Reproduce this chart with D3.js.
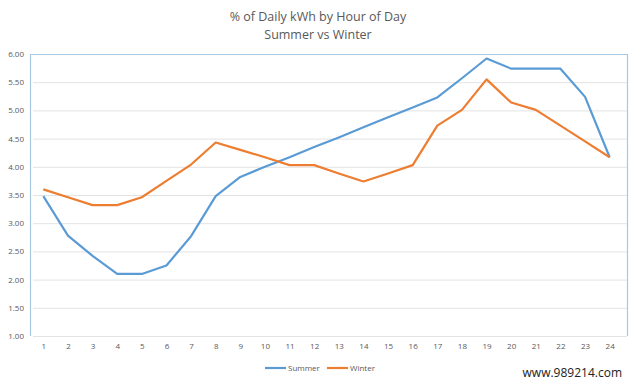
<!DOCTYPE html>
<html>
<head>
<meta charset="utf-8">
<script src="https://cdn.jsdelivr.net/npm/d3@7"></script>
<style>
  body { margin: 0; background: #fff; }
  text { font-family: "Open Sans", "Noto Sans", sans-serif; }
</style>
</head>
<body>
<div id="chart"></div>
<script>
// hours of day and share of daily kWh
const hours = d3.range(1, 25);
const summer = [3.48, 2.78, 2.42, 2.10, 2.10, 2.25, 2.77, 3.48, 3.82, 4.00, 4.17, 4.35,
                4.52, 4.70, 4.88, 5.05, 5.23, 5.57, 5.92, 5.74, 5.74, 5.74, 5.24, 4.17];
const winter = [3.60, 3.46, 3.32, 3.32, 3.46, 3.75, 4.04, 4.43, 4.30, 4.17, 4.03, 4.03,
                3.88, 3.74, 3.88, 4.03, 4.73, 5.01, 5.55, 5.14, 5.01, 4.73, 4.45, 4.17];
const yTicks = [1, 1.5, 2, 2.5, 3, 3.5, 4, 4.5, 5, 5.5, 6];
const seriesNames = ["Summer", "Winter"];
const seriesColors = ["#5b9bd5", "#ed7d31"];

const width = 637, height = 383;
const plot = { left: 31, right: 622, top: 54, bottom: 336 };

const svg = d3.select("#chart").append("svg")
    .attr("width", width)
    .attr("height", height);

// title
svg.append("text")
    .attr("x", 318).attr("y", 21)
    .attr("text-anchor", "middle")
    .attr("font-size", 12.5)
    .attr("fill", "#595959")
    .text("% of Daily kWh by Hour of Day");
svg.append("text")
    .attr("x", 318).attr("y", 39)
    .attr("text-anchor", "middle")
    .attr("font-size", 12.5)
    .attr("fill", "#595959")
    .text("Summer vs Winter");

const x = d3.scalePoint()
    .domain(hours)
    .range([plot.left, plot.right])
    .padding(0.5);

const y = d3.scaleLinear()
    .domain([1, 6])
    .range([plot.bottom, plot.top]);

// gridlines
svg.append("g")
    .selectAll("line")
    .data(yTicks)
    .join("line")
    .attr("x1", plot.left + 2)
    .attr("x2", 627)
    .attr("y1", d => y(d) + 0.5)
    .attr("y2", d => y(d) + 0.5)
    .attr("stroke", "#e3e3e3")
    .attr("stroke-width", 1);

// plot frame (left, top, right)
svg.append("path")
    .attr("d", `M${plot.left - 0.5},${plot.bottom}V${plot.top + 0.5}H627.5V${plot.bottom}`)
    .attr("fill", "none")
    .attr("stroke", "#a8c8e4")
    .attr("stroke-width", 1.2);

// y axis labels
const yAxis = d3.axisLeft(y)
    .tickValues(yTicks)
    .tickFormat(d3.format(".2f"))
    .tickSize(0)
    .tickPadding(7);
svg.append("g")
    .attr("transform", `translate(${plot.left},0)`)
    .call(yAxis)
    .call(g => g.select(".domain").remove())
    .call(g => g.selectAll("text")
        .attr("font-size", 8)
        .attr("fill", "#595959")
        .attr("font-family", "'Open Sans', sans-serif"));

// x axis labels
const xAxis = d3.axisBottom(x).tickSize(0).tickPadding(7);
svg.append("g")
    .attr("transform", `translate(0,${plot.bottom})`)
    .call(xAxis)
    .call(g => g.select(".domain").remove())
    .call(g => g.selectAll("text")
        .attr("font-size", 8)
        .attr("fill", "#595959")
        .attr("font-family", "'Open Sans', sans-serif"));

// lines
const line = d3.line()
    .x((d, i) => x(hours[i]))
    .y(d => y(d));

[summer, winter].forEach((vals, k) => {
    svg.append("path")
        .datum(vals)
        .attr("d", line)
        .attr("fill", "none")
        .attr("stroke", seriesColors[k])
        .attr("stroke-width", 2.2)
        .attr("stroke-linejoin", "round");
});

// legend
const legendX = [265, 327];
seriesNames.forEach((name, k) => {
    const g = svg.append("g")
        .attr("transform", `translate(${legendX[k]},368)`);
    g.append("line")
        .attr("x1", 0).attr("x2", 21)
        .attr("stroke", seriesColors[k])
        .attr("stroke-width", 2.2);
    g.append("text")
        .attr("x", 23).attr("y", 3)
        .attr("font-size", 8)
        .attr("fill", "#595959")
        .text(name);
});

// watermark
svg.append("text")
    .attr("x", 622).attr("y", 377)
    .attr("text-anchor", "end")
    .attr("font-size", 12)
    .attr("font-family", "'Liberation Sans', Arial, sans-serif")
    .attr("fill", "#222")
    .text("www.989214.com");
</script>
</body>
</html>
